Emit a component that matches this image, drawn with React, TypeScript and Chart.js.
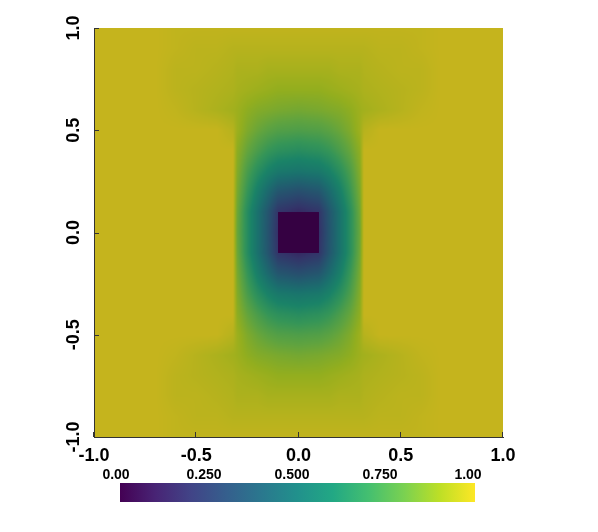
import React, { useEffect, useRef } from 'react';
import { Chart, registerables } from 'chart.js';

Chart.register(...registerables);

// ---- data ----
const X_NODES = [-1, -0.9, -0.8, -0.7, -0.6, -0.5, -0.4, -0.32, -0.3, -0.25, -0.2, -0.15, -0.1, 0, 0.1, 0.15, 0.2, 0.25, 0.3, 0.32, 0.4, 0.5, 0.6, 0.7, 0.8, 0.9, 1];
const Y_NODES = [1, 0.9, 0.8, 0.7, 0.6, 0.5, 0.4, 0.3, 0.2, 0.1, 0, -0.1, -0.2, -0.3, -0.4, -0.5, -0.6, -0.7, -0.8, -0.9, -1];

// scalar field values at the nodes (rows: y from 1 to -1, cols: X_NODES)
const FIELD: number[][] = [
  [1, 1, 1, 1, .99, .99, .99, .99, .99, .99, .99, .99, .99, .99, .99, .99, .99, .99, .99, .99, .99, .99, .99, 1, 1, 1, 1],
  [1, 1, 1, 1, .99, .98, .98, .97, .97, .97, .97, .97, .97, .97, .97, .97, .97, .97, .97, .97, .98, .98, .99, 1, 1, 1, 1],
  [1, 1, 1, 1, .98, .98, .97, .96, .95, .95, .95, .94, .94, .94, .94, .94, .95, .95, .95, .96, .97, .98, .98, 1, 1, 1, 1],
  [1, 1, 1, 1, .98, .97, .96, .95, .94, .93, .92, .91, .90, .90, .90, .91, .92, .93, .94, .95, .96, .97, .98, 1, 1, 1, 1],
  [1, 1, 1, 1, .99, .97, .95, .93, .92, .89, .87, .86, .85, .84, .85, .86, .87, .89, .92, .93, .95, .97, .99, 1, 1, 1, 1],
  [1, 1, 1, 1, 1, 1, 1, .97, .92, .86, .82, .79, .77, .76, .77, .79, .82, .86, .92, .97, 1, 1, 1, 1, 1, 1, 1],
  [1, 1, 1, 1, 1, 1, 1, 1, .89, .81, .75, .70, .67, .65, .67, .70, .75, .81, .89, 1, 1, 1, 1, 1, 1, 1, 1],
  [1, 1, 1, 1, 1, 1, 1, 1, .87, .75, .66, .59, .54, .52, .54, .59, .66, .75, .87, 1, 1, 1, 1, 1, 1, 1, 1],
  [1, 1, 1, 1, 1, 1, 1, 1, .85, .70, .57, .46, .36, .32, .36, .46, .57, .70, .85, 1, 1, 1, 1, 1, 1, 1, 1],
  [1, 1, 1, 1, 1, 1, 1, 1, .83, .65, .50, .36, .20, .15, .20, .36, .50, .65, .83, 1, 1, 1, 1, 1, 1, 1, 1],
  [1, 1, 1, 1, 1, 1, 1, 1, .82, .65, .50, .35, .18, 0, .18, .35, .50, .65, .82, 1, 1, 1, 1, 1, 1, 1, 1],
  [1, 1, 1, 1, 1, 1, 1, 1, .83, .65, .50, .36, .20, .15, .20, .36, .50, .65, .83, 1, 1, 1, 1, 1, 1, 1, 1],
  [1, 1, 1, 1, 1, 1, 1, 1, .85, .70, .57, .46, .36, .32, .36, .46, .57, .70, .85, 1, 1, 1, 1, 1, 1, 1, 1],
  [1, 1, 1, 1, 1, 1, 1, 1, .87, .75, .66, .59, .54, .52, .54, .59, .66, .75, .87, 1, 1, 1, 1, 1, 1, 1, 1],
  [1, 1, 1, 1, 1, 1, 1, 1, .89, .81, .75, .70, .67, .65, .67, .70, .75, .81, .89, 1, 1, 1, 1, 1, 1, 1, 1],
  [1, 1, 1, 1, 1, 1, 1, .97, .92, .86, .82, .79, .77, .76, .77, .79, .82, .86, .92, .97, 1, 1, 1, 1, 1, 1, 1],
  [1, 1, 1, 1, .99, .97, .95, .93, .92, .89, .87, .86, .85, .84, .85, .86, .87, .89, .92, .93, .95, .97, .99, 1, 1, 1, 1],
  [1, 1, 1, 1, .98, .97, .96, .95, .94, .93, .92, .91, .90, .90, .90, .91, .92, .93, .94, .95, .96, .97, .98, 1, 1, 1, 1],
  [1, 1, 1, 1, .98, .98, .97, .96, .95, .95, .95, .94, .94, .94, .94, .94, .95, .95, .95, .96, .97, .98, .98, 1, 1, 1, 1],
  [1, 1, 1, 1, .99, .98, .98, .97, .97, .97, .97, .97, .97, .97, .97, .97, .97, .97, .97, .97, .98, .98, .99, 1, 1, 1, 1],
  [1, 1, 1, 1, .99, .99, .99, .99, .99, .99, .99, .99, .99, .99, .99, .99, .99, .99, .99, .99, .99, .99, .99, 1, 1, 1, 1],
];

// square obstacle region held at value 0: [xMin, xMax, yMin, yMax, value]
const OBSTACLE = [-0.1, 0.1, -0.1, 0.1, 0];

const AXIS_MIN = -1;
const AXIS_MAX = 1;
const AXIS_STEP = 0.5;

const CB_TICKS = [0, 0.25, 0.5, 0.75, 1];
const CB_LABELS = ['0.00', '0.250', '0.500', '0.750', '1.00'];

// ---- style ----
const VIRIDIS = ['#440154', '#482475', '#414487', '#355f8d', '#2a788e', '#21918c', '#22a884', '#44bf70', '#7ad151', '#bddf26', '#fde725'];
const SHADE = 0.78;
const FONT = "'Liberation Sans', Arial, sans-serif";
const AXIS_COLOR = '#333333';

const VIRIDIS_RGB = VIRIDIS.map((h) => [parseInt(h.slice(1, 3), 16), parseInt(h.slice(3, 5), 16), parseInt(h.slice(5, 7), 16)]);

function cmap(v: number): number[] {
  const t = Math.max(0, Math.min(1, v)) * (VIRIDIS_RGB.length - 1);
  const i = Math.min(VIRIDIS_RGB.length - 2, Math.floor(t));
  const f = t - i;
  const a = VIRIDIS_RGB[i], b = VIRIDIS_RGB[i + 1];
  return [a[0] + (b[0] - a[0]) * f, a[1] + (b[1] - a[1]) * f, a[2] + (b[2] - a[2]) * f];
}

function locate(nodes: number[], v: number): [number, number] {
  const asc = nodes[nodes.length - 1] > nodes[0];
  for (let i = 0; i < nodes.length - 1; i++) {
    const a = nodes[i], b = nodes[i + 1];
    const lo = Math.min(a, b), hi = Math.max(a, b);
    if (v >= lo && v <= hi) return [i, (v - a) / (b - a)];
  }
  if (asc) return v < nodes[0] ? [0, 0] : [nodes.length - 2, 1];
  return v > nodes[0] ? [0, 0] : [nodes.length - 2, 1];
}

function sample(xv: number, yv: number): number {
  const [i, fx] = locate(X_NODES, xv);
  const [j, fy] = locate(Y_NODES, yv);
  const v00 = FIELD[j][i], v10 = FIELD[j][i + 1], v01 = FIELD[j + 1][i], v11 = FIELD[j + 1][i + 1];
  return (v00 * (1 - fx) + v10 * fx) * (1 - fy) + (v01 * (1 - fx) + v11 * fx) * fy;
}

const fieldPlugin = {
  id: 'fieldPlugin',
  beforeDatasetsDraw(chart: any) {
    const { ctx, chartArea: ca, scales } = chart;
    const xs = scales.x, ys = scales.y;
    const L = Math.round(ca.left), T = Math.round(ca.top);
    const W = Math.round(ca.right) - L, H = Math.round(ca.bottom) - T;
    const img = ctx.createImageData(W, H);
    const d = img.data;
    for (let j = 0; j < H; j++) {
      const yv = ys.getValueForPixel(T + j + 0.5);
      for (let i = 0; i < W; i++) {
        const xv = xs.getValueForPixel(L + i + 0.5);
        const c = cmap(sample(xv, yv));
        const k = (j * W + i) * 4;
        d[k] = c[0] * SHADE;
        d[k + 1] = c[1] * SHADE;
        d[k + 2] = c[2] * SHADE;
        d[k + 3] = 255;
      }
    }
    ctx.putImageData(img, L, T);
    // obstacle square
    const [x0, x1, y0, y1, val] = OBSTACLE;
    const c = cmap(val);
    const px0 = xs.getPixelForValue(x0), px1 = xs.getPixelForValue(x1);
    const py0 = ys.getPixelForValue(y1), py1 = ys.getPixelForValue(y0);
    ctx.save();
    ctx.fillStyle = `rgb(${Math.round(c[0] * SHADE)},${Math.round(c[1] * SHADE)},${Math.round(c[2] * SHADE)})`;
    ctx.fillRect(px0, py0, px1 - px0, py1 - py0);
    ctx.restore();
  },
};

const tickMarkPlugin = {
  id: 'tickMarkPlugin',
  afterDraw(chart: any) {
    const { ctx, chartArea: ca, scales } = chart;
    ctx.save();
    ctx.strokeStyle = AXIS_COLOR;
    ctx.lineWidth = 1;
    ctx.beginPath();
    for (const t of scales.x.ticks) {
      const px = Math.round(scales.x.getPixelForValue(t.value)) - 0.5;
      ctx.moveTo(px, ca.bottom);
      ctx.lineTo(px, ca.bottom - 5);
    }
    for (const t of scales.y.ticks) {
      const py = Math.round(scales.y.getPixelForValue(t.value)) + 0.5;
      ctx.moveTo(ca.left, py);
      ctx.lineTo(ca.left + 5, py);
    }
    ctx.stroke();
    ctx.restore();
  },
};

const CB_BOX = { left: 120, top: 483, width: 355, height: 19 };

const colorbarPlugin = {
  id: 'colorbarPlugin',
  afterDraw(chart: any) {
    const { ctx } = chart;
    const { left, top, width, height } = CB_BOX;
    ctx.save();
    const g = ctx.createLinearGradient(left, 0, left + width, 0);
    VIRIDIS.forEach((c, i) => g.addColorStop(i / (VIRIDIS.length - 1), c));
    ctx.fillStyle = g;
    ctx.fillRect(left, top, width, height);
    ctx.fillStyle = '#000';
    ctx.font = `bold 14px ${FONT}`;
    ctx.textAlign = 'center';
    ctx.textBaseline = 'middle';
    CB_TICKS.forEach((v, i) => {
      const x = left - 4 + v * (width - 3);
      ctx.fillText(CB_LABELS[i], x, top - 8);
    });
    ctx.restore();
  },
};

export default function App() {
  const ref = useRef<HTMLCanvasElement | null>(null);
  useEffect(() => {
    if (!ref.current) return;
    const tickFont = { family: FONT, size: 18, weight: 'bold' as const };
    const chart = new Chart(ref.current, {
      type: 'scatter',
      data: { datasets: [{ data: [], pointRadius: 0 }] },
      plugins: [fieldPlugin, tickMarkPlugin, colorbarPlugin],
      options: {
        animation: false,
        responsive: false,
        devicePixelRatio: 1,
        layout: { padding: { top: 28, right: 95, left: 0, bottom: 0 } },
        plugins: { legend: { display: false }, tooltip: { enabled: false } },
        scales: {
          x: {
            type: 'linear',
            position: 'bottom',
            min: AXIS_MIN,
            max: AXIS_MAX,
            grid: { display: false, drawTicks: false },
            border: { display: true, color: AXIS_COLOR, width: 1, z: 1 },
            ticks: {
              stepSize: AXIS_STEP,
              autoSkip: false,
              maxRotation: 0,
              padding: 8,
              color: '#000',
              font: tickFont,
              callback: (v: any) => Number(v).toFixed(1),
            },
            afterFit: (s: any) => { s.height = 95; },
          },
          y: {
            type: 'linear',
            position: 'left',
            min: AXIS_MIN,
            max: AXIS_MAX,
            grid: { display: false, drawTicks: false },
            border: { display: true, color: AXIS_COLOR, width: 1, z: 1 },
            ticks: {
              stepSize: AXIS_STEP,
              autoSkip: false,
              minRotation: 90,
              maxRotation: 90,
              crossAlign: 'center',
              padding: 4,
              color: '#000',
              font: tickFont,
              callback: (v: any) => Number(v).toFixed(1),
            },
            afterFit: (s: any) => { s.width = 94; },
          },
        },
      } as any,
    });
    return () => chart.destroy();
  }, []);
  return (
    <div style={{ position: 'absolute', left: 0, top: 0, width: 598, height: 532, background: '#fff' }}>
      <canvas ref={ref} width={598} height={532} style={{ display: 'block' }} />
    </div>
  );
}
